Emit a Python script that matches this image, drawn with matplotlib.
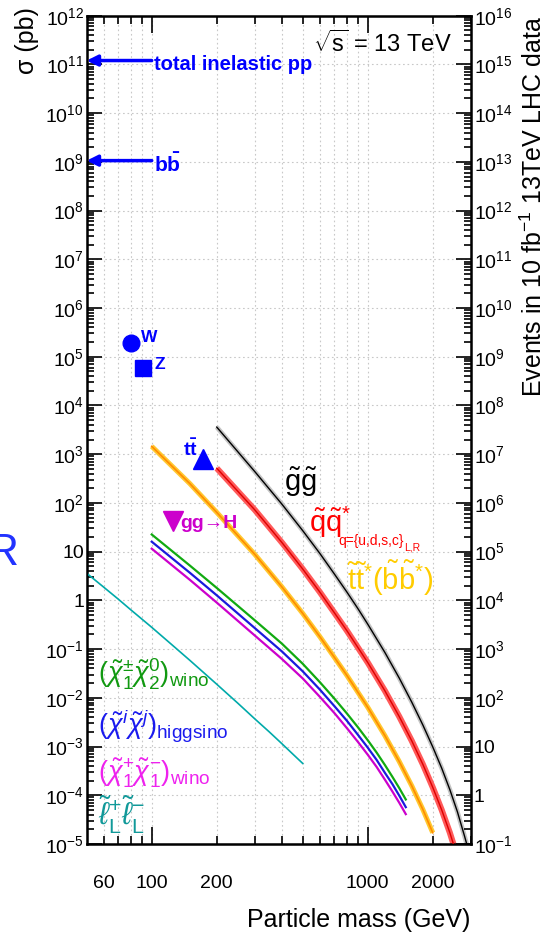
import numpy as np
import matplotlib.pyplot as plt
from matplotlib.ticker import FixedLocator, FixedFormatter, LogLocator, NullFormatter

plt.rcParams['font.family'] = ['Liberation Sans', 'DejaVu Sans']
plt.rcParams['mathtext.fontset'] = 'custom'
plt.rcParams['mathtext.rm'] = 'Liberation Sans'
plt.rcParams['mathtext.it'] = 'Liberation Sans:italic'
plt.rcParams['mathtext.bf'] = 'Liberation Sans:bold'

# ---- cross sections (pb) vs particle mass (GeV) ----
gluino_mass = [200, 300, 400, 500, 600, 700, 800, 900, 1000, 1200, 1400, 1600, 1800, 2000, 2200, 2400, 2600, 2800, 3000]
gluino_xsec = [3600, 440, 95, 27, 9.2, 3.5, 1.49, 0.68, 0.325, 0.0856, 0.0253, 0.0081, 0.00276,
               0.00098, 0.00036, 0.00013, 4.6e-5, 1.5e-5, 5e-6]

squark_mass = [200, 300, 400, 500, 600, 700, 800, 1000, 1200, 1400, 1600, 1800, 2000, 2200, 2400, 2600]
squark_xsec = [515, 72, 15.5, 4.4, 1.48, 0.56, 0.24, 0.053, 0.014, 0.0041, 0.0013, 4.3e-4, 1.45e-4,
               5.0e-5, 1.7e-5, 5.5e-6]

stop_mass = [100, 150, 200, 300, 400, 500, 600, 700, 800, 1000, 1200, 1400, 1600, 1800, 2000]
stop_xsec = [1450, 250, 64, 8.8, 1.9, 0.54, 0.18, 0.068, 0.029, 0.0064, 0.00168, 0.00049, 0.000155,
             5.1e-5, 1.7e-5]

ewk_mass = [100, 150, 200, 300, 400, 500, 600, 700, 800, 900, 1000, 1100, 1200, 1300, 1400, 1500]
wino_c1n2 = [22.5, 5.2, 1.8, 0.39, 0.13, 0.05, 0.021, 0.0097, 0.0048, 0.0025, 0.00135, 0.00075,
             0.00042, 0.00024, 0.00014, 8.2e-5]
higgsino = [16, 3.7, 1.27, 0.27, 0.09, 0.035, 0.0148, 0.0068, 0.0034, 0.00175, 0.00095, 0.00053,
            0.00029, 0.00017, 9.8e-5, 5.7e-5]
wino_c1c1 = [11.5, 2.65, 0.9, 0.19, 0.063, 0.025, 0.0105, 0.0049, 0.0024, 0.00125, 0.00068, 0.00038,
             0.00021, 0.00012, 7.0e-5, 4.1e-5]

slepton_mass = [50, 60, 70, 80, 100, 125, 150, 200, 250, 300, 350, 400, 450, 500]
slepton_xsec = [3.6, 1.86, 1.06, 0.64, 0.28, 0.119, 0.059, 0.019, 0.0078, 0.0037, 0.002, 0.00115,
                0.0007, 0.00045]

# standard model reference points
sm_names = ['W', 'Z', 'ttbar', 'ggH']
sm_mass = [80, 91, 173, 125]
sm_xsec = [1.9e5, 5.8e4, 780, 42]
inel_xsec = 1.2e11
bb_xsec = 1.06e9

left_ticks = [10.0**k for k in range(-5, 13)]
left_labels = ['$10^{-5}$', '$10^{-4}$', '$10^{-3}$', '$10^{-2}$', '$10^{-1}$', '1', '10',
               '$10^{2}$', '$10^{3}$', '$10^{4}$', '$10^{5}$', '$10^{6}$', '$10^{7}$', '$10^{8}$',
               '$10^{9}$', '$10^{10}$', '$10^{11}$', '$10^{12}$']
right_labels = ['$10^{-1}$', '1', '10', '$10^{2}$', '$10^{3}$', '$10^{4}$', '$10^{5}$', '$10^{6}$',
                '$10^{7}$', '$10^{8}$', '$10^{9}$', '$10^{10}$', '$10^{11}$', '$10^{12}$',
                '$10^{13}$', '$10^{14}$', '$10^{15}$', '$10^{16}$']
x_major = [100, 1000]
x_minor = [60, 70, 80, 90, 200, 300, 400, 500, 600, 700, 800, 900, 2000, 3000]
x_minor_labeled = {60: '60', 200: '200', 2000: '2000'}

fig = plt.figure(figsize=(5.47, 9.33), dpi=100)
ax = fig.add_axes([0.1585, 0.0954, 0.7022, 0.8878])
ax.set_xscale('log')
ax.set_yscale('log')
ax.set_xlim(50, 3000)
ax.set_ylim(1e-5, 1e12)

# grid
for v in x_major + x_minor:
    ax.axvline(v, color='#c8c8c8', lw=0.8, ls=(0, (1.5, 2.5)), zorder=0)
for v in left_ticks:
    ax.axhline(v, color='#c8c8c8', lw=0.8, ls=(0, (1.5, 2.5)), zorder=0)

# bands + central lines
ax.plot(gluino_mass, gluino_xsec, color='#c4c4c4', lw=3.4, solid_capstyle='butt', zorder=2)
ax.plot(gluino_mass, gluino_xsec, color='black', lw=1.0, zorder=3)
ax.plot(squark_mass, squark_xsec, color='#ff5a5a', lw=4.4, solid_capstyle='butt', zorder=2)
ax.plot(squark_mass, squark_xsec, color='#dd0000', lw=1.0, zorder=3)
ax.plot(stop_mass, stop_xsec, color='#ffc830', lw=3.6, solid_capstyle='butt', zorder=2)
ax.plot(stop_mass, stop_xsec, color='#ff8c00', lw=1.2, zorder=3)

ax.plot(ewk_mass, wino_c1n2, color='#11aa11', lw=1.6, zorder=3)
ax.plot(ewk_mass, higgsino, color='#1a1add', lw=1.6, zorder=3)
ax.plot(ewk_mass, wino_c1c1, color='#cc00cc', lw=1.6, zorder=3)
ax.plot(slepton_mass, slepton_xsec, color='#00aaaa', lw=1.2, zorder=3)

# SM markers
ax.plot(sm_mass[0], sm_xsec[0], 'o', color='#0000ff', ms=12, zorder=4, clip_on=False)
ax.plot(sm_mass[1], sm_xsec[1], 's', color='#0000ff', ms=12, zorder=4, clip_on=False)
ax.plot(sm_mass[2], sm_xsec[2], '^', color='#0000ff', ms=15, zorder=4)
ax.plot(sm_mass[3], sm_xsec[3], 'v', color='#cc00cc', ms=14, zorder=4)
ax.text(89, 2.45e5, 'W', color='#0000ff', fontsize=12.5, fontweight='bold', va='center')
ax.text(103, 6.8e4, 'Z', color='#0000ff', fontsize=12.5, fontweight='bold', va='center')
ax.text(139, 1250, r'$\mathbf{t\bar{t}}$', color='#0000ff', fontsize=14, va='center')
ax.text(136, 37, 'gg→H', color='#cc00cc', fontsize=14, fontweight='bold', va='center')

# arrows for total inelastic and bb
for yv in [inel_xsec, bb_xsec]:
    ax.annotate('', xy=(50, yv), xytext=(100, yv),
                arrowprops=dict(arrowstyle='-|>', color='#0000ff', lw=2.5,
                                mutation_scale=16, shrinkA=0, shrinkB=0))
ax.text(103, 1.0e11, 'total inelastic pp', color='#0000ff', fontsize=14.5, fontweight='bold', va='center')
ax.text(103, 0.9e9, r'$\mathbf{b\bar{b}}$', color='#0000ff', fontsize=15, va='center')

ax.text(2450, 2.7e11, r'$\sqrt{\mathrm{s}}$ = 13 TeV', fontsize=17, ha='right', va='center')

# curve labels
ax.text(490, 270, r'$\mathrm{\tilde{g}\tilde{g}}$', fontsize=21, ha='center', va='center')
ax.text(537, 25, r'$\mathrm{\tilde{q}\tilde{q}^{*}}$', color='#ff0000', fontsize=21, va='baseline')
ax.text(728, 13.7, 'q={u,d,s,c}', color='#ff0000', fontsize=10, va='baseline')
ax.text(1470, 10.4, 'L,R', color='#ff0000', fontsize=7.5, va='baseline')
ax.text(800, 1.6, r'$\mathrm{\tilde{t}\tilde{t}^{*}(\tilde{b}\tilde{b}^{*})}$', color='#ffcc00',
        fontsize=21, va='baseline')

ax.text(56.5, 0.03, r'$(\tilde{\chi}^{\pm}_{1}\tilde{\chi}^{0}_{2})_{\mathrm{wino}}$', color='#119911',
        fontsize=19.5, va='center')
ax.text(56.5, 0.0027, r'$(\tilde{\chi}^{i}\tilde{\chi}^{j})_{\mathrm{higgsino}}$', color='#1a1aee',
        fontsize=19.5, va='center')
ax.text(56.5, 2.8e-4, r'$(\tilde{\chi}^{+}_{1}\tilde{\chi}^{-}_{1})_{\mathrm{wino}}$', color='#ee22ee',
        fontsize=19.5, va='center')
ax.text(56.5, 4e-5, r'$\tilde{\ell}^{+}_{\mathrm{L}}\tilde{\ell}^{-}_{\mathrm{L}}$', color='#119999',
        fontsize=22, va='center')

# axes styling
ax.yaxis.set_major_locator(FixedLocator(left_ticks))
ax.yaxis.set_major_formatter(FixedFormatter(left_labels))
ax.yaxis.set_minor_locator(LogLocator(base=10, subs=np.arange(2, 10), numticks=100))
ax.yaxis.set_minor_formatter(NullFormatter())
ax.xaxis.set_major_locator(FixedLocator(x_major))
ax.xaxis.set_major_formatter(FixedFormatter(['100', '1000']))
ax.xaxis.set_minor_locator(FixedLocator(x_minor))
ax.xaxis.set_minor_formatter(FixedFormatter([x_minor_labeled.get(v, '') for v in x_minor]))
ax.tick_params(axis='both', which='both', direction='in', labelsize=14, width=1.2)
ax.tick_params(axis='y', which='major', length=11, pad=2)
ax.tick_params(axis='y', which='minor', length=5)
ax.tick_params(axis='x', which='major', length=12, pad=22, top=True)
ax.tick_params(axis='x', which='minor', length=6, pad=22, top=True)
for s in ax.spines.values():
    s.set_linewidth(1.8)

ax2 = ax.twinx()
ax2.set_yscale('log')
ax2.set_ylim(1e-1, 1e16)
ax2.yaxis.set_major_locator(FixedLocator([10.0**k for k in range(-1, 17)]))
ax2.yaxis.set_major_formatter(FixedFormatter(right_labels))
ax2.yaxis.set_minor_locator(LogLocator(base=10, subs=np.arange(2, 10), numticks=100))
ax2.yaxis.set_minor_formatter(NullFormatter())
ax2.tick_params(axis='y', which='both', direction='in', labelsize=14, width=1.2)
ax2.tick_params(axis='y', which='major', length=11, pad=2)
ax2.tick_params(axis='y', which='minor', length=5)

ax.set_xlabel('Particle mass (GeV)', fontsize=18, ha='right', x=1.0, labelpad=12)
ax.set_ylabel('σ (pb)', fontsize=18, ha='right', y=1.01, labelpad=4)
ax2.set_ylabel(r'Events in 10 fb$^{-1}$ 13TeV LHC data', fontsize=18, ha='right', y=1.0, labelpad=6)

# fragment of a neighbouring panel at the left edge
fig.text(-0.024, 0.385, 'R', color='#2233ff', fontsize=32, ha='left', va='bottom')

fig.savefig('out.png', dpi=100)
